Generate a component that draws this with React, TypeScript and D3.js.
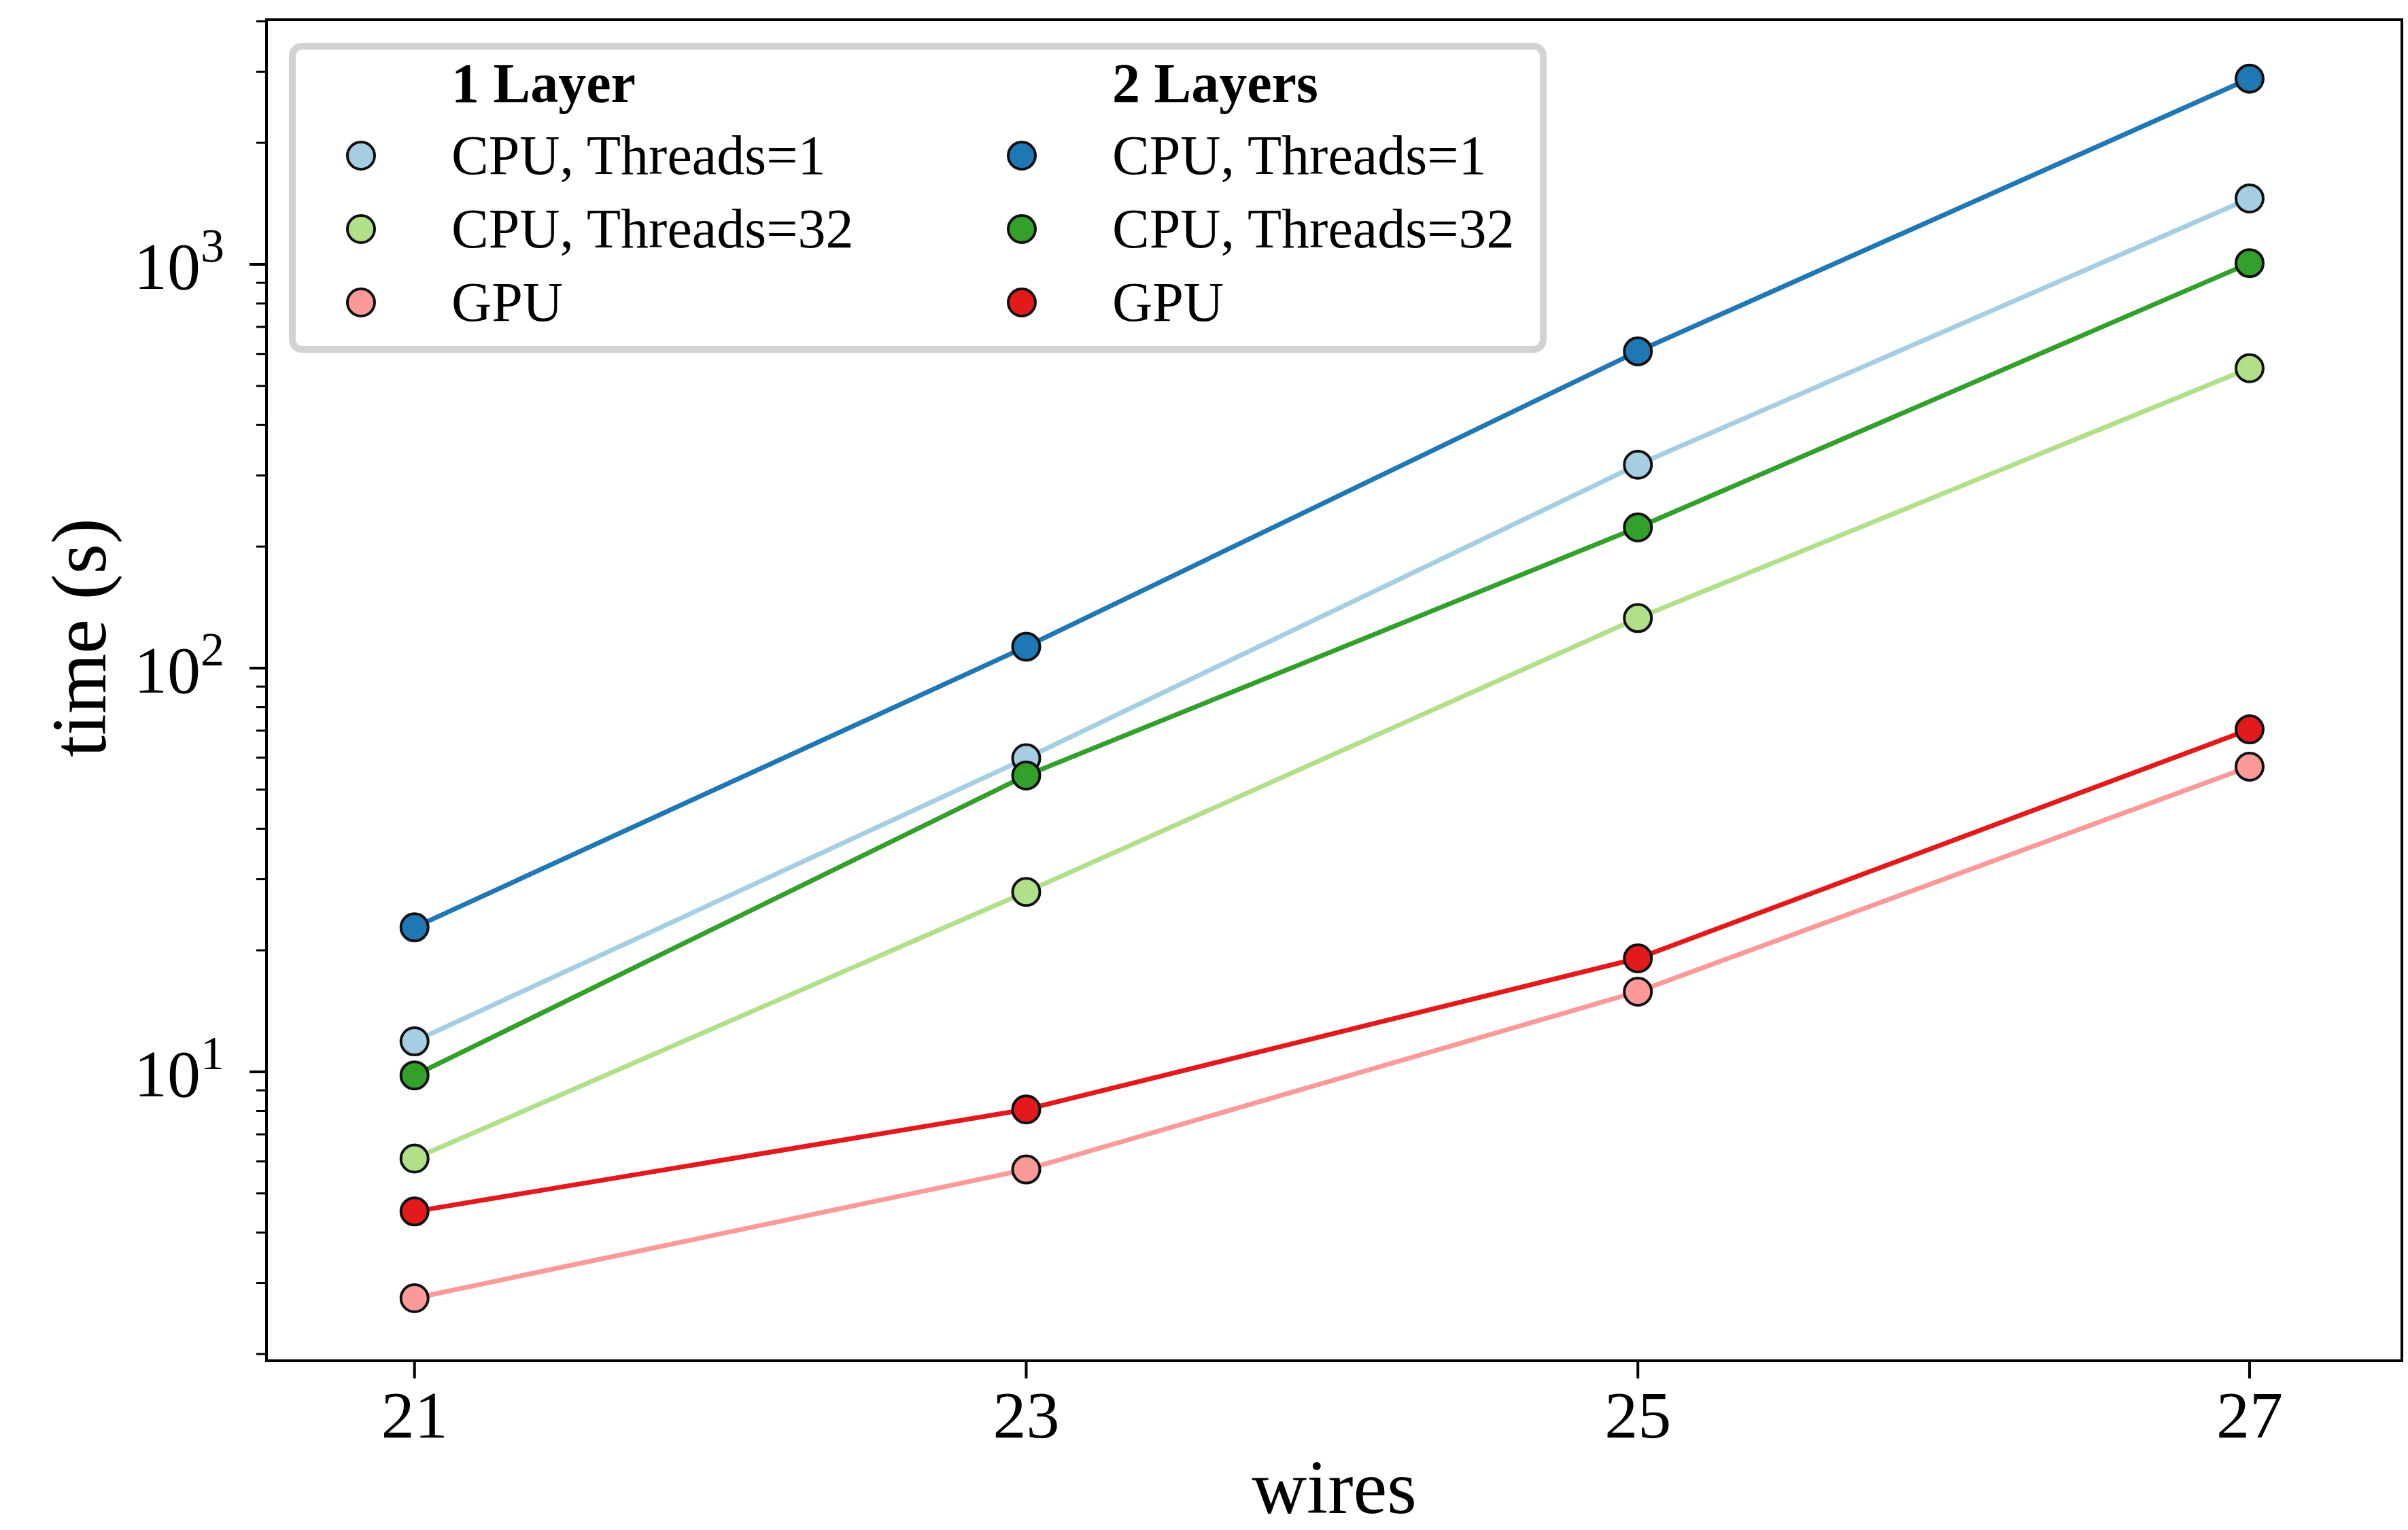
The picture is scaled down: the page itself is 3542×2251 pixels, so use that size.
import { useEffect, useRef } from 'react';
import * as d3 from 'd3';

// wires on the x axis
const WIRES = [21, 23, 25, 27];
const X_TICKS = [21, 23, 25, 27];
const X_LIMITS = [20.516, 27.498];
const Y_MAJOR = [1, 2, 3];
const Y_LIMITS = [1.925, 4036];

// runtimes (s)
const L1_CPU1 = [11.9, 59.8, 319, 1456];
const L1_CPU32 = [6.1, 27.9, 133, 553];
const L1_GPU = [2.75, 5.73, 15.8, 57.0];
const L2_CPU1 = [22.8, 113, 609, 2884];
const L2_CPU32 = [9.8, 54.2, 223, 1007];
const L2_GPU = [4.51, 8.07, 19.1, 70.5];

const LABELS = ['CPU, Threads=1', 'CPU, Threads=32', 'GPU'];
const TITLES = ['1 Layer', '2 Layers'];

const SERIES = [
  { col: 0, row: 0, color: '#a6cee3', values: L1_CPU1 },
  { col: 0, row: 1, color: '#b2df8a', values: L1_CPU32 },
  { col: 0, row: 2, color: '#fb9a99', values: L1_GPU },
  { col: 1, row: 0, color: '#1f78b4', values: L2_CPU1 },
  { col: 1, row: 1, color: '#33a02c', values: L2_CPU32 },
  { col: 1, row: 2, color: '#e31a1c', values: L2_GPU },
];

const W = 3542, H = 2251;
const M = { left: 392, right: 3533, top: 29, bottom: 2002 };
const FONT = '"Liberation Serif", "DejaVu Serif", serif';

export default function App() {
  const ref = useRef<SVGSVGElement | null>(null);

  useEffect(() => {
    const svg = d3.select(ref.current!);
    svg.selectAll('*').remove();
    svg.append('rect').attr('width', W).attr('height', H).attr('fill', 'white');

    const x = d3.scaleLinear().domain(X_LIMITS).range([M.left, M.right]);
    const y = d3.scaleLog().domain(Y_LIMITS).range([M.bottom, M.top]);

    // series: 1 layer first, then 2 layers on top
    const line = d3.line<number>().x((_, i) => x(WIRES[i])).y((d) => y(d));
    SERIES.forEach((s) => {
      svg.append('path').attr('d', line(s.values)!).attr('fill', 'none')
        .attr('stroke', s.color).attr('stroke-width', 7).attr('stroke-linejoin', 'round');
      svg.append('g').selectAll('circle').data(s.values).enter().append('circle')
        .attr('cx', (_, i) => x(WIRES[i])).attr('cy', (d) => y(d)).attr('r', 20)
        .attr('fill', s.color).attr('stroke', '#111').attr('stroke-width', 4);
    });

    // spines
    svg.append('rect').attr('x', M.left).attr('y', M.top)
      .attr('width', M.right - M.left).attr('height', M.bottom - M.top)
      .attr('fill', 'none').attr('stroke', 'black').attr('stroke-width', 4);

    // x ticks
    const gx = svg.append('g');
    X_TICKS.forEach((t) => {
      gx.append('line').attr('x1', x(t)).attr('x2', x(t)).attr('y1', M.bottom).attr('y2', M.bottom + 26)
        .attr('stroke', 'black').attr('stroke-width', 4);
      gx.append('text').attr('x', x(t)).attr('y', 2115).attr('text-anchor', 'middle')
        .attr('font-family', FONT).attr('font-size', 98).text(String(t));
    });

    // y ticks, log scale
    const gy = svg.append('g');
    const [lo, hi] = Y_LIMITS;
    for (let e = Math.floor(Math.log10(lo)); e <= Math.ceil(Math.log10(hi)); e++) {
      for (let k = 2; k <= 9; k++) {
        const v = k * Math.pow(10, e);
        if (v < lo || v > hi) continue;
        gy.append('line').attr('x1', M.left - 15).attr('x2', M.left).attr('y1', y(v)).attr('y2', y(v))
          .attr('stroke', 'black').attr('stroke-width', 3);
      }
    }
    Y_MAJOR.forEach((p) => {
      const v = Math.pow(10, p);
      gy.append('line').attr('x1', M.left - 25).attr('x2', M.left).attr('y1', y(v)).attr('y2', y(v))
        .attr('stroke', 'black').attr('stroke-width', 4);
      const t = gy.append('text').attr('x', 330).attr('y', y(v) + 36).attr('text-anchor', 'end')
        .attr('font-family', FONT).attr('font-size', 98);
      t.append('tspan').text('10');
      t.append('tspan').attr('dy', -40).attr('font-size', 70).text(String(p));
    });

    // axis labels
    svg.append('text').attr('x', (M.left + M.right) / 2).attr('y', 2226).attr('text-anchor', 'middle')
      .attr('font-family', FONT).attr('font-size', 112).text('wires');
    svg.append('text').attr('transform', 'translate(155,938) rotate(-90)').attr('text-anchor', 'middle')
      .attr('font-family', FONT).attr('font-size', 114).text('time (s)');

    // legend
    const lg = svg.append('g');
    lg.append('rect').attr('x', 430).attr('y', 68).attr('width', 1840).attr('height', 446).attr('rx', 14)
      .attr('fill', 'white').attr('fill-opacity', 0.9).attr('stroke', '#d2d2d2').attr('stroke-width', 10);
    const colMarker = [531, 1503];
    const colText = [664, 1636];
    const rowCenter = [229, 337, 445];
    TITLES.forEach((t, c) => {
      lg.append('text').attr('x', colText[c]).attr('y', 150).attr('font-family', FONT)
        .attr('font-size', 82).attr('font-weight', 'bold').text(t);
    });
    SERIES.forEach((s) => {
      lg.append('circle').attr('cx', colMarker[s.col]).attr('cy', rowCenter[s.row]).attr('r', 20)
        .attr('fill', s.color).attr('stroke', '#111').attr('stroke-width', 4);
      lg.append('text').attr('x', colText[s.col]).attr('y', rowCenter[s.row] + 27)
        .attr('font-family', FONT).attr('font-size', 82).text(LABELS[s.row]);
    });
  }, []);

  return (
    <svg ref={ref} width={W} height={H}
      style={{ position: 'absolute', left: 0, top: 0, display: 'block' }} />
  );
}
